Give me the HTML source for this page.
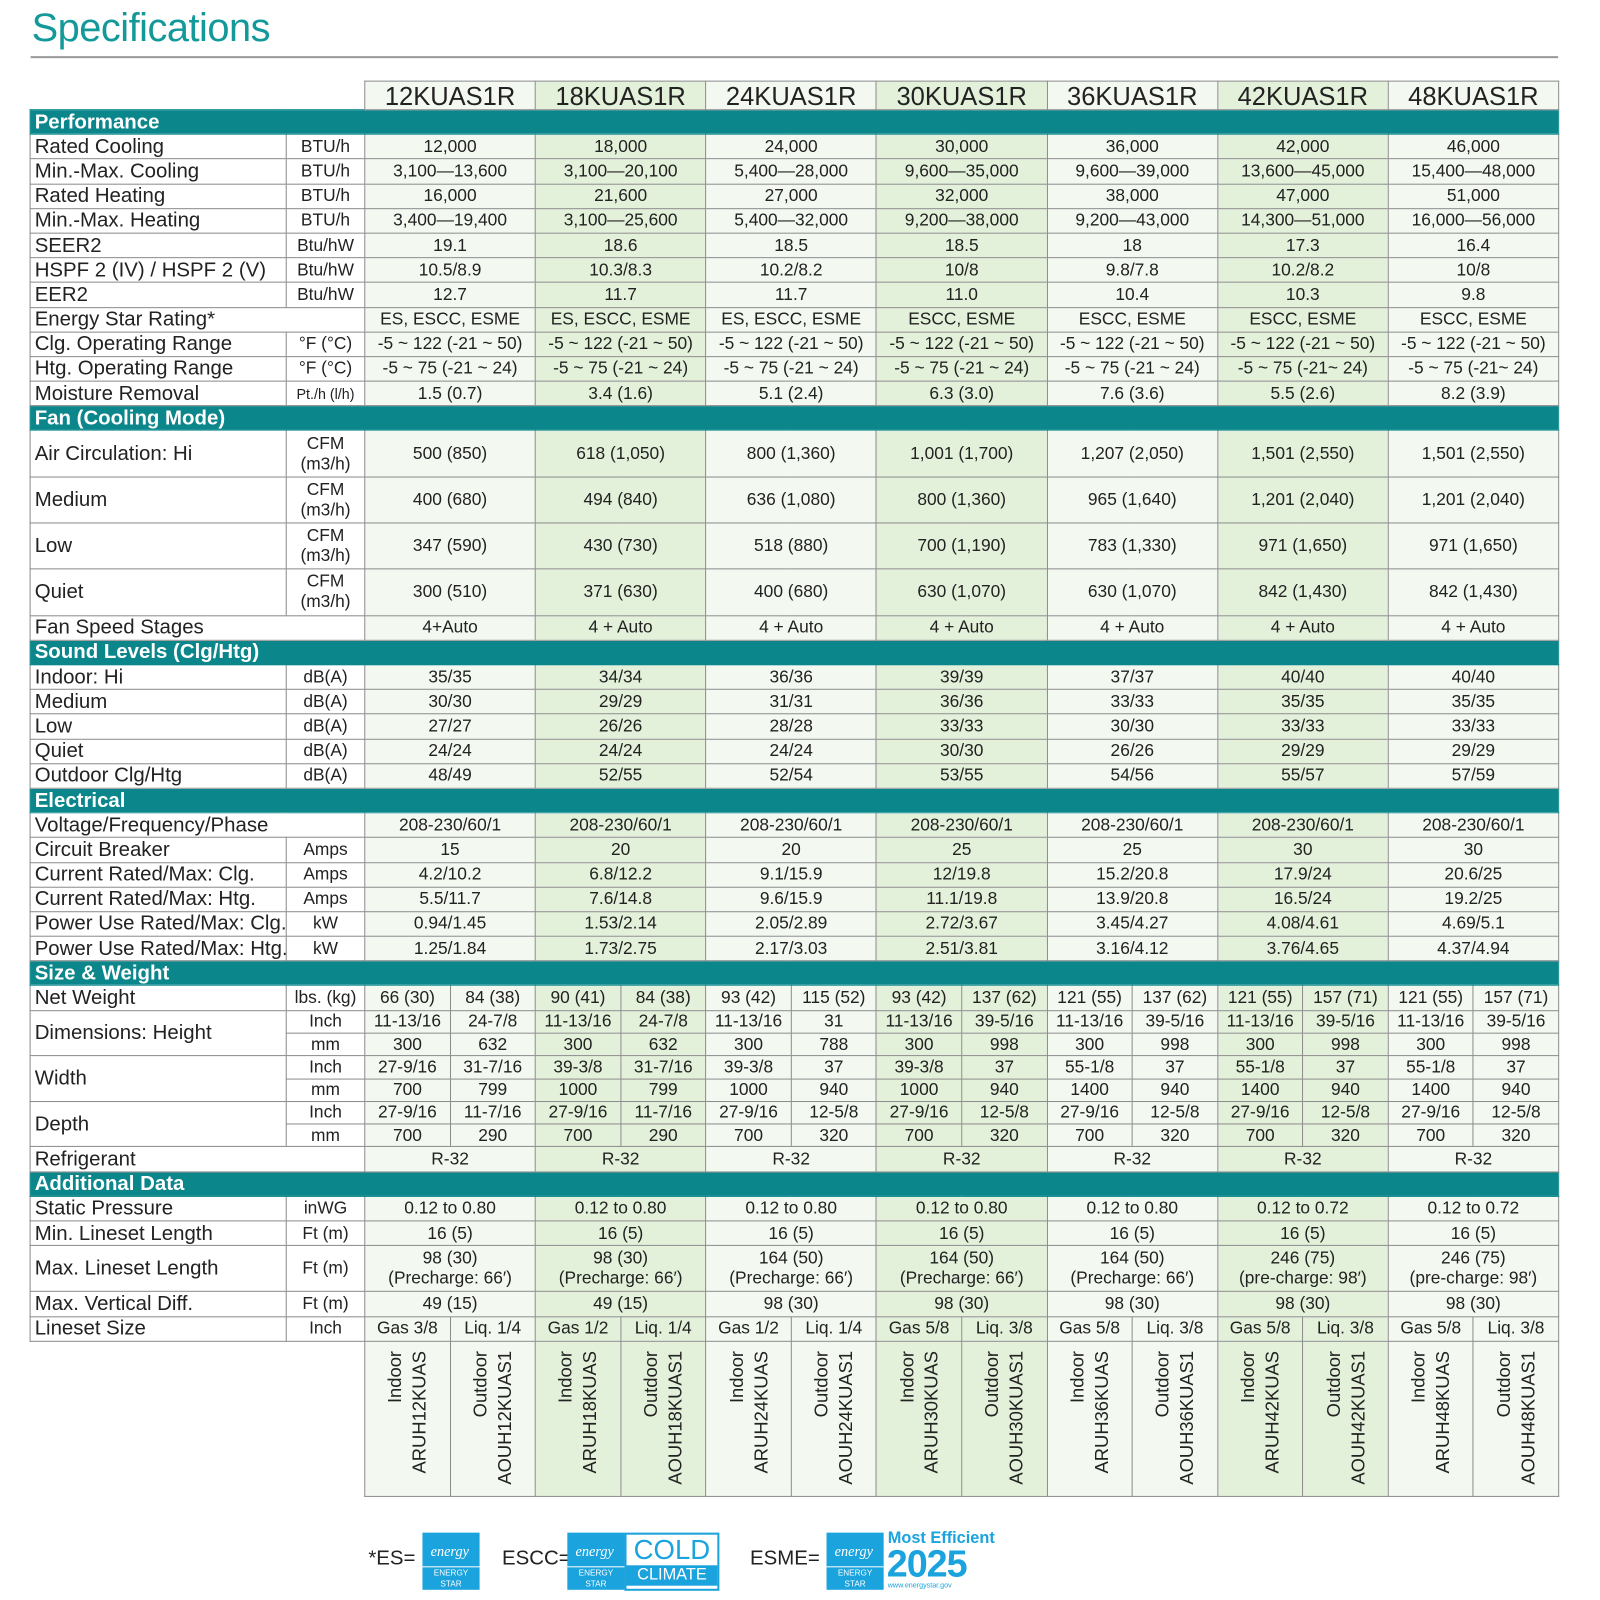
<!DOCTYPE html>
<html><head><meta charset="utf-8"><style>
body{margin:0;background:#fff;width:1600px;height:1600px;overflow:hidden}
#w{position:absolute;left:0;top:0;width:1568px;height:1568px;transform:scale(1.0204);transform-origin:0 0;font-family:"Liberation Sans",sans-serif;color:#222}
h1{position:absolute;left:31px;top:6px;margin:0;font-weight:normal;font-size:39px;color:#14999a;letter-spacing:-0.5px}
#rule{position:absolute;left:30px;top:55px;width:1497px;height:2px;background:#9a9a9a}
table{position:absolute;left:29px;top:79px;border-collapse:collapse;table-layout:fixed;width:1498px}
td{border:1px solid #8c8c8c;padding:0;text-align:center;font-size:17px;white-space:nowrap;overflow:hidden;line-height:20px}
td.L{text-align:left;padding-left:4px;font-size:20px;background:#fff}
td.U{font-size:17px;background:#fff}
td.a{background:#f3f9f0}
td.b{background:#e4f1da}
td.S{background:#0b878c;color:#fff;font-weight:bold;font-size:20px;text-align:left;padding-left:4px;border-color:#0b878c}
td.H{font-size:25px;padding-top:2px;line-height:24px}
td.N{border:none;background:#fff}
tr{height:24.2px}
tr.d{height:45.3px}
tr.h{height:22.3px}
.r{writing-mode:vertical-rl;transform:rotate(180deg);text-align:end;font-size:18px;line-height:24px;height:138px;margin:auto;padding-bottom:6px;white-space:nowrap}
.lg{position:absolute;font-size:20px}
.es{position:absolute;width:56px;height:56px;background:#1aa3dd;color:#fff}
.es span{position:absolute;bottom:0;left:0;right:0;font-size:8px;text-align:center;border-top:1px solid #fff;line-height:11px}
.es i{position:absolute;left:8px;top:12px;font-size:14px;font-style:italic;font-family:"Liberation Serif",serif}
</style></head><body><div id="w">
<h1>Specifications</h1><div id="rule"></div>
<table>
<colgroup><col style="width:251px"><col style="width:77px"><col span="14" style="width:83.57px"></colgroup>
<tr style="height:28px"><td class="N" colspan="2"></td><td colspan="2" class="a H">12KUAS1R</td><td colspan="2" class="b H">18KUAS1R</td><td colspan="2" class="a H">24KUAS1R</td><td colspan="2" class="b H">30KUAS1R</td><td colspan="2" class="a H">36KUAS1R</td><td colspan="2" class="b H">42KUAS1R</td><td colspan="2" class="a H">48KUAS1R</td></tr>
<tr><td colspan="16" class="S">Performance</td></tr>
<tr><td class="L">Rated Cooling</td><td class="U">BTU/h</td><td colspan="2" class="a">12,000</td><td colspan="2" class="b">18,000</td><td colspan="2" class="a">24,000</td><td colspan="2" class="b">30,000</td><td colspan="2" class="a">36,000</td><td colspan="2" class="b">42,000</td><td colspan="2" class="a">46,000</td></tr>
<tr><td class="L">Min.-Max. Cooling</td><td class="U">BTU/h</td><td colspan="2" class="a">3,100—13,600</td><td colspan="2" class="b">3,100—20,100</td><td colspan="2" class="a">5,400—28,000</td><td colspan="2" class="b">9,600—35,000</td><td colspan="2" class="a">9,600—39,000</td><td colspan="2" class="b">13,600—45,000</td><td colspan="2" class="a">15,400—48,000</td></tr>
<tr><td class="L">Rated Heating</td><td class="U">BTU/h</td><td colspan="2" class="a">16,000</td><td colspan="2" class="b">21,600</td><td colspan="2" class="a">27,000</td><td colspan="2" class="b">32,000</td><td colspan="2" class="a">38,000</td><td colspan="2" class="b">47,000</td><td colspan="2" class="a">51,000</td></tr>
<tr><td class="L">Min.-Max. Heating</td><td class="U">BTU/h</td><td colspan="2" class="a">3,400—19,400</td><td colspan="2" class="b">3,100—25,600</td><td colspan="2" class="a">5,400—32,000</td><td colspan="2" class="b">9,200—38,000</td><td colspan="2" class="a">9,200—43,000</td><td colspan="2" class="b">14,300—51,000</td><td colspan="2" class="a">16,000—56,000</td></tr>
<tr><td class="L">SEER2</td><td class="U">Btu/hW</td><td colspan="2" class="a">19.1</td><td colspan="2" class="b">18.6</td><td colspan="2" class="a">18.5</td><td colspan="2" class="b">18.5</td><td colspan="2" class="a">18</td><td colspan="2" class="b">17.3</td><td colspan="2" class="a">16.4</td></tr>
<tr><td class="L">HSPF 2 (IV) / HSPF 2 (V)</td><td class="U">Btu/hW</td><td colspan="2" class="a">10.5/8.9</td><td colspan="2" class="b">10.3/8.3</td><td colspan="2" class="a">10.2/8.2</td><td colspan="2" class="b">10/8</td><td colspan="2" class="a">9.8/7.8</td><td colspan="2" class="b">10.2/8.2</td><td colspan="2" class="a">10/8</td></tr>
<tr><td class="L">EER2</td><td class="U">Btu/hW</td><td colspan="2" class="a">12.7</td><td colspan="2" class="b">11.7</td><td colspan="2" class="a">11.7</td><td colspan="2" class="b">11.0</td><td colspan="2" class="a">10.4</td><td colspan="2" class="b">10.3</td><td colspan="2" class="a">9.8</td></tr>
<tr><td class="L" colspan="2">Energy Star Rating*</td><td colspan="2" class="a">ES, ESCC, ESME</td><td colspan="2" class="b">ES, ESCC, ESME</td><td colspan="2" class="a">ES, ESCC, ESME</td><td colspan="2" class="b">ESCC, ESME</td><td colspan="2" class="a">ESCC, ESME</td><td colspan="2" class="b">ESCC, ESME</td><td colspan="2" class="a">ESCC, ESME</td></tr>
<tr><td class="L">Clg. Operating Range</td><td class="U">°F (°C)</td><td colspan="2" class="a">-5 ~ 122 (-21 ~ 50)</td><td colspan="2" class="b">-5 ~ 122 (-21 ~ 50)</td><td colspan="2" class="a">-5 ~ 122 (-21 ~ 50)</td><td colspan="2" class="b">-5 ~ 122 (-21 ~ 50)</td><td colspan="2" class="a">-5 ~ 122 (-21 ~ 50)</td><td colspan="2" class="b">-5 ~ 122 (-21 ~ 50)</td><td colspan="2" class="a">-5 ~ 122 (-21 ~ 50)</td></tr>
<tr><td class="L">Htg. Operating Range</td><td class="U">°F (°C)</td><td colspan="2" class="a">-5 ~ 75 (-21 ~ 24)</td><td colspan="2" class="b">-5 ~ 75 (-21 ~ 24)</td><td colspan="2" class="a">-5 ~ 75 (-21 ~ 24)</td><td colspan="2" class="b">-5 ~ 75 (-21 ~ 24)</td><td colspan="2" class="a">-5 ~ 75 (-21 ~ 24)</td><td colspan="2" class="b">-5 ~ 75 (-21~ 24)</td><td colspan="2" class="a">-5 ~ 75 (-21~ 24)</td></tr>
<tr><td class="L">Moisture Removal</td><td class="U" style="font-size:14px">Pt./h (l/h)</td><td colspan="2" class="a">1.5 (0.7)</td><td colspan="2" class="b">3.4 (1.6)</td><td colspan="2" class="a">5.1 (2.4)</td><td colspan="2" class="b">6.3 (3.0)</td><td colspan="2" class="a">7.6 (3.6)</td><td colspan="2" class="b">5.5 (2.6)</td><td colspan="2" class="a">8.2 (3.9)</td></tr>
<tr><td colspan="16" class="S">Fan (Cooling Mode)</td></tr>
<tr class="d"><td class="L">Air Circulation: Hi</td><td class="U">CFM<br>(m3/h)</td><td colspan="2" class="a">500 (850)</td><td colspan="2" class="b">618 (1,050)</td><td colspan="2" class="a">800 (1,360)</td><td colspan="2" class="b">1,001 (1,700)</td><td colspan="2" class="a">1,207 (2,050)</td><td colspan="2" class="b">1,501 (2,550)</td><td colspan="2" class="a">1,501 (2,550)</td></tr>
<tr class="d"><td class="L">Medium</td><td class="U">CFM<br>(m3/h)</td><td colspan="2" class="a">400 (680)</td><td colspan="2" class="b">494 (840)</td><td colspan="2" class="a">636 (1,080)</td><td colspan="2" class="b">800 (1,360)</td><td colspan="2" class="a">965 (1,640)</td><td colspan="2" class="b">1,201 (2,040)</td><td colspan="2" class="a">1,201 (2,040)</td></tr>
<tr class="d"><td class="L">Low</td><td class="U">CFM<br>(m3/h)</td><td colspan="2" class="a">347 (590)</td><td colspan="2" class="b">430 (730)</td><td colspan="2" class="a">518 (880)</td><td colspan="2" class="b">700 (1,190)</td><td colspan="2" class="a">783 (1,330)</td><td colspan="2" class="b">971 (1,650)</td><td colspan="2" class="a">971 (1,650)</td></tr>
<tr class="d"><td class="L">Quiet</td><td class="U">CFM<br>(m3/h)</td><td colspan="2" class="a">300 (510)</td><td colspan="2" class="b">371 (630)</td><td colspan="2" class="a">400 (680)</td><td colspan="2" class="b">630 (1,070)</td><td colspan="2" class="a">630 (1,070)</td><td colspan="2" class="b">842 (1,430)</td><td colspan="2" class="a">842 (1,430)</td></tr>
<tr><td class="L" colspan="2">Fan Speed Stages</td><td colspan="2" class="a">4+Auto</td><td colspan="2" class="b">4 + Auto</td><td colspan="2" class="a">4 + Auto</td><td colspan="2" class="b">4 + Auto</td><td colspan="2" class="a">4 + Auto</td><td colspan="2" class="b">4 + Auto</td><td colspan="2" class="a">4 + Auto</td></tr>
<tr><td colspan="16" class="S">Sound Levels (Clg/Htg)</td></tr>
<tr><td class="L">Indoor: Hi</td><td class="U">dB(A)</td><td colspan="2" class="a">35/35</td><td colspan="2" class="b">34/34</td><td colspan="2" class="a">36/36</td><td colspan="2" class="b">39/39</td><td colspan="2" class="a">37/37</td><td colspan="2" class="b">40/40</td><td colspan="2" class="a">40/40</td></tr>
<tr><td class="L">Medium</td><td class="U">dB(A)</td><td colspan="2" class="a">30/30</td><td colspan="2" class="b">29/29</td><td colspan="2" class="a">31/31</td><td colspan="2" class="b">36/36</td><td colspan="2" class="a">33/33</td><td colspan="2" class="b">35/35</td><td colspan="2" class="a">35/35</td></tr>
<tr><td class="L">Low</td><td class="U">dB(A)</td><td colspan="2" class="a">27/27</td><td colspan="2" class="b">26/26</td><td colspan="2" class="a">28/28</td><td colspan="2" class="b">33/33</td><td colspan="2" class="a">30/30</td><td colspan="2" class="b">33/33</td><td colspan="2" class="a">33/33</td></tr>
<tr><td class="L">Quiet</td><td class="U">dB(A)</td><td colspan="2" class="a">24/24</td><td colspan="2" class="b">24/24</td><td colspan="2" class="a">24/24</td><td colspan="2" class="b">30/30</td><td colspan="2" class="a">26/26</td><td colspan="2" class="b">29/29</td><td colspan="2" class="a">29/29</td></tr>
<tr><td class="L">Outdoor Clg/Htg</td><td class="U">dB(A)</td><td colspan="2" class="a">48/49</td><td colspan="2" class="b">52/55</td><td colspan="2" class="a">52/54</td><td colspan="2" class="b">53/55</td><td colspan="2" class="a">54/56</td><td colspan="2" class="b">55/57</td><td colspan="2" class="a">57/59</td></tr>
<tr><td colspan="16" class="S">Electrical</td></tr>
<tr><td class="L" colspan="2">Voltage/Frequency/Phase</td><td colspan="2" class="a">208-230/60/1</td><td colspan="2" class="b">208-230/60/1</td><td colspan="2" class="a">208-230/60/1</td><td colspan="2" class="b">208-230/60/1</td><td colspan="2" class="a">208-230/60/1</td><td colspan="2" class="b">208-230/60/1</td><td colspan="2" class="a">208-230/60/1</td></tr>
<tr><td class="L">Circuit Breaker</td><td class="U">Amps</td><td colspan="2" class="a">15</td><td colspan="2" class="b">20</td><td colspan="2" class="a">20</td><td colspan="2" class="b">25</td><td colspan="2" class="a">25</td><td colspan="2" class="b">30</td><td colspan="2" class="a">30</td></tr>
<tr><td class="L">Current Rated/Max: Clg.</td><td class="U">Amps</td><td colspan="2" class="a">4.2/10.2</td><td colspan="2" class="b">6.8/12.2</td><td colspan="2" class="a">9.1/15.9</td><td colspan="2" class="b">12/19.8</td><td colspan="2" class="a">15.2/20.8</td><td colspan="2" class="b">17.9/24</td><td colspan="2" class="a">20.6/25</td></tr>
<tr><td class="L">Current Rated/Max: Htg.</td><td class="U">Amps</td><td colspan="2" class="a">5.5/11.7</td><td colspan="2" class="b">7.6/14.8</td><td colspan="2" class="a">9.6/15.9</td><td colspan="2" class="b">11.1/19.8</td><td colspan="2" class="a">13.9/20.8</td><td colspan="2" class="b">16.5/24</td><td colspan="2" class="a">19.2/25</td></tr>
<tr><td class="L">Power Use Rated/Max: Clg.</td><td class="U">kW</td><td colspan="2" class="a">0.94/1.45</td><td colspan="2" class="b">1.53/2.14</td><td colspan="2" class="a">2.05/2.89</td><td colspan="2" class="b">2.72/3.67</td><td colspan="2" class="a">3.45/4.27</td><td colspan="2" class="b">4.08/4.61</td><td colspan="2" class="a">4.69/5.1</td></tr>
<tr><td class="L">Power Use Rated/Max: Htg.</td><td class="U">kW</td><td colspan="2" class="a">1.25/1.84</td><td colspan="2" class="b">1.73/2.75</td><td colspan="2" class="a">2.17/3.03</td><td colspan="2" class="b">2.51/3.81</td><td colspan="2" class="a">3.16/4.12</td><td colspan="2" class="b">3.76/4.65</td><td colspan="2" class="a">4.37/4.94</td></tr>
<tr><td colspan="16" class="S">Size &amp; Weight</td></tr>
<tr><td class="L">Net Weight</td><td class="U">lbs. (kg)</td><td class="a">66 (30)</td><td class="a">84 (38)</td><td class="b">90 (41)</td><td class="b">84 (38)</td><td class="a">93 (42)</td><td class="a">115 (52)</td><td class="b">93 (42)</td><td class="b">137 (62)</td><td class="a">121 (55)</td><td class="a">137 (62)</td><td class="b">121 (55)</td><td class="b">157 (71)</td><td class="a">121 (55)</td><td class="a">157 (71)</td></tr>
<tr class="h"><td class="L" rowspan="2">Dimensions: Height</td><td class="U">Inch</td><td class="a">11-13/16</td><td class="a">24-7/8</td><td class="b">11-13/16</td><td class="b">24-7/8</td><td class="a">11-13/16</td><td class="a">31</td><td class="b">11-13/16</td><td class="b">39-5/16</td><td class="a">11-13/16</td><td class="a">39-5/16</td><td class="b">11-13/16</td><td class="b">39-5/16</td><td class="a">11-13/16</td><td class="a">39-5/16</td></tr>
<tr class="h"><td class="U">mm</td><td class="a">300</td><td class="a">632</td><td class="b">300</td><td class="b">632</td><td class="a">300</td><td class="a">788</td><td class="b">300</td><td class="b">998</td><td class="a">300</td><td class="a">998</td><td class="b">300</td><td class="b">998</td><td class="a">300</td><td class="a">998</td></tr>
<tr class="h"><td class="L" rowspan="2">Width</td><td class="U">Inch</td><td class="a">27-9/16</td><td class="a">31-7/16</td><td class="b">39-3/8</td><td class="b">31-7/16</td><td class="a">39-3/8</td><td class="a">37</td><td class="b">39-3/8</td><td class="b">37</td><td class="a">55-1/8</td><td class="a">37</td><td class="b">55-1/8</td><td class="b">37</td><td class="a">55-1/8</td><td class="a">37</td></tr>
<tr class="h"><td class="U">mm</td><td class="a">700</td><td class="a">799</td><td class="b">1000</td><td class="b">799</td><td class="a">1000</td><td class="a">940</td><td class="b">1000</td><td class="b">940</td><td class="a">1400</td><td class="a">940</td><td class="b">1400</td><td class="b">940</td><td class="a">1400</td><td class="a">940</td></tr>
<tr class="h"><td class="L" rowspan="2">Depth</td><td class="U">Inch</td><td class="a">27-9/16</td><td class="a">11-7/16</td><td class="b">27-9/16</td><td class="b">11-7/16</td><td class="a">27-9/16</td><td class="a">12-5/8</td><td class="b">27-9/16</td><td class="b">12-5/8</td><td class="a">27-9/16</td><td class="a">12-5/8</td><td class="b">27-9/16</td><td class="b">12-5/8</td><td class="a">27-9/16</td><td class="a">12-5/8</td></tr>
<tr class="h"><td class="U">mm</td><td class="a">700</td><td class="a">290</td><td class="b">700</td><td class="b">290</td><td class="a">700</td><td class="a">320</td><td class="b">700</td><td class="b">320</td><td class="a">700</td><td class="a">320</td><td class="b">700</td><td class="b">320</td><td class="a">700</td><td class="a">320</td></tr>
<tr><td class="L" colspan="2">Refrigerant</td><td colspan="2" class="a">R-32</td><td colspan="2" class="b">R-32</td><td colspan="2" class="a">R-32</td><td colspan="2" class="b">R-32</td><td colspan="2" class="a">R-32</td><td colspan="2" class="b">R-32</td><td colspan="2" class="a">R-32</td></tr>
<tr><td colspan="16" class="S">Additional Data</td></tr>
<tr><td class="L">Static Pressure</td><td class="U">inWG</td><td colspan="2" class="a">0.12 to 0.80</td><td colspan="2" class="b">0.12 to 0.80</td><td colspan="2" class="a">0.12 to 0.80</td><td colspan="2" class="b">0.12 to 0.80</td><td colspan="2" class="a">0.12 to 0.80</td><td colspan="2" class="b">0.12 to 0.72</td><td colspan="2" class="a">0.12 to 0.72</td></tr>
<tr><td class="L">Min. Lineset Length</td><td class="U">Ft (m)</td><td colspan="2" class="a">16 (5)</td><td colspan="2" class="b">16 (5)</td><td colspan="2" class="a">16 (5)</td><td colspan="2" class="b">16 (5)</td><td colspan="2" class="a">16 (5)</td><td colspan="2" class="b">16 (5)</td><td colspan="2" class="a">16 (5)</td></tr>
<tr class="d"><td class="L">Max. Lineset Length</td><td class="U">Ft (m)</td><td colspan="2" class="a">98 (30)<br>(Precharge: 66′)</td><td colspan="2" class="b">98 (30)<br>(Precharge: 66′)</td><td colspan="2" class="a">164 (50)<br>(Precharge: 66′)</td><td colspan="2" class="b">164 (50)<br>(Precharge: 66′)</td><td colspan="2" class="a">164 (50)<br>(Precharge: 66′)</td><td colspan="2" class="b">246 (75)<br>(pre-charge: 98′)</td><td colspan="2" class="a">246 (75)<br>(pre-charge: 98′)</td></tr>
<tr><td class="L">Max. Vertical Diff.</td><td class="U">Ft (m)</td><td colspan="2" class="a">49 (15)</td><td colspan="2" class="b">49 (15)</td><td colspan="2" class="a">98 (30)</td><td colspan="2" class="b">98 (30)</td><td colspan="2" class="a">98 (30)</td><td colspan="2" class="b">98 (30)</td><td colspan="2" class="a">98 (30)</td></tr>
<tr><td class="L">Lineset Size</td><td class="U">Inch</td><td class="a">Gas 3/8</td><td class="a">Liq. 1/4</td><td class="b">Gas 1/2</td><td class="b">Liq. 1/4</td><td class="a">Gas 1/2</td><td class="a">Liq. 1/4</td><td class="b">Gas 5/8</td><td class="b">Liq. 3/8</td><td class="a">Gas 5/8</td><td class="a">Liq. 3/8</td><td class="b">Gas 5/8</td><td class="b">Liq. 3/8</td><td class="a">Gas 5/8</td><td class="a">Liq. 3/8</td></tr>
<tr style="height:152px"><td class="N" colspan="2"></td>
<td class="a"><div class="r">Indoor<br>ARUH12KUAS</div></td><td class="a"><div class="r">Outdoor<br>AOUH12KUAS1</div></td>
<td class="b"><div class="r">Indoor<br>ARUH18KUAS</div></td><td class="b"><div class="r">Outdoor<br>AOUH18KUAS1</div></td>
<td class="a"><div class="r">Indoor<br>ARUH24KUAS</div></td><td class="a"><div class="r">Outdoor<br>AOUH24KUAS1</div></td>
<td class="b"><div class="r">Indoor<br>ARUH30KUAS</div></td><td class="b"><div class="r">Outdoor<br>AOUH30KUAS1</div></td>
<td class="a"><div class="r">Indoor<br>ARUH36KUAS</div></td><td class="a"><div class="r">Outdoor<br>AOUH36KUAS1</div></td>
<td class="b"><div class="r">Indoor<br>ARUH42KUAS</div></td><td class="b"><div class="r">Outdoor<br>AOUH42KUAS1</div></td>
<td class="a"><div class="r">Indoor<br>ARUH48KUAS</div></td><td class="a"><div class="r">Outdoor<br>AOUH48KUAS1</div></td></tr>
</table>

<div class="lg" style="left:361px;top:1516px">*ES=</div>
<div class="es" style="left:414px;top:1502px"><i>energy</i><span>ENERGY STAR</span></div>
<div class="lg" style="left:492px;top:1516px">ESCC=</div>
<div class="es" style="left:556px;top:1502px"><i>energy</i><span>ENERGY STAR</span></div>
<div style="position:absolute;left:612px;top:1502px;width:89px;height:53px;border:2px solid #1aa3dd;color:#1aa3dd;text-align:center;background:#fff">
<div style="font-size:27px;line-height:30px">COLD</div><div style="font-size:16px;line-height:20px;background:#1aa3dd;color:#fff">CLIMATE</div></div>
<div class="lg" style="left:735px;top:1516px">ESME=</div>
<div class="es" style="left:810px;top:1502px"><i>energy</i><span>ENERGY STAR</span></div>
<div style="position:absolute;left:870px;top:1499px;color:#1aa3dd;font-weight:bold;font-size:16px">Most Efficient</div>
<div style="position:absolute;left:869px;top:1514px;color:#1aa3dd;font-weight:bold;font-size:37px;line-height:37px;letter-spacing:-1px">2025</div>
<div style="position:absolute;left:870px;top:1551px;color:#1aa3dd;font-size:7px">www.energystar.gov</div>
</div></body></html>
